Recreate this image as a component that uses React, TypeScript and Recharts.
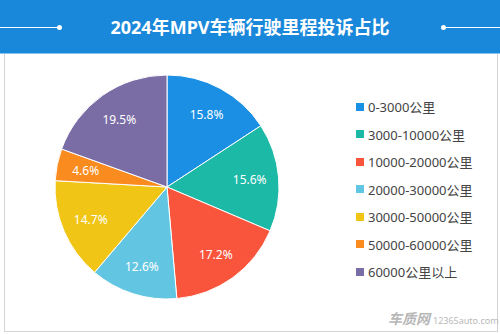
import { PieChart, Pie, Cell, Legend } from 'recharts';

const categories = [
  '0-3000公里',
  '3000-10000公里',
  '10000-20000公里',
  '20000-30000公里',
  '30000-50000公里',
  '50000-60000公里',
  '60000公里以上',
];
const shares = [15.8, 15.6, 17.2, 12.6, 14.7, 4.6, 19.5];
const colors = ['#1a8fe3', '#1cb9a6', '#f8553c', '#62c6e2', '#f0c516', '#fa8b1f', '#7a6da6'];

const title = '2024年MPV车辆行驶里程投诉占比';
const font = "'Noto Sans', 'Noto Sans CJK SC', sans-serif";

const data = categories.map((name, i) => ({ name, value: shares[i] }));

const RAD = Math.PI / 180;

function renderLabel(props: any) {
  const { cx, cy, midAngle, value } = props;
  const r = 83;
  const x = cx + r * Math.cos(-midAngle * RAD);
  const y = cy + r * Math.sin(-midAngle * RAD);
  return (
    <text
      x={x}
      y={y}
      fill="#fff"
      textAnchor="middle"
      dominantBaseline="central"
      fontSize={12}
      fontFamily={font}
    >
      {value.toFixed(1)}%
    </text>
  );
}

// legend in data order (the payload order from recharts got shuffled)
function LegendList() {
  return (
    <ul style={{ listStyle: 'none', margin: 0, padding: 0 }}>
      {categories.map((c, i) => (
        <li
          key={c}
          style={{ display: 'flex', alignItems: 'center', height: 27.5, fontFamily: font, fontSize: 13, color: '#444' }}
        >
          <span style={{ width: 8, height: 8, background: colors[i], marginRight: 4, display: 'inline-block' }} />
          {c}
        </li>
      ))}
    </ul>
  );
}

export default function App() {
  return (
    <div style={{ position: 'absolute', left: 0, top: 0, width: 500, height: 334, background: '#fff', overflow: 'hidden' }}>
      <div style={{ position: 'absolute', left: 0, top: 0, width: 500, height: 53, background: '#1a88da' }} />
      <div style={{ position: 'absolute', left: 0, top: 53, width: 500, height: 1, background: '#8cc4ee' }} />
      <div
        style={{
          position: 'absolute',
          left: 4,
          top: 54,
          width: 492,
          height: 277,
          borderLeft: '1px solid #d4d4d4',
          borderRight: '1px solid #d4d4d4',
          borderBottom: '1px solid #d4d4d4',
        }}
      />
      <div style={{ position: 'absolute', left: 0, top: 27, width: 60, height: 1, background: '#fff' }} />
      <div style={{ position: 'absolute', left: 57, top: 25, width: 5, height: 5, borderRadius: 3, background: '#fff' }} />
      <div style={{ position: 'absolute', left: 441, top: 25, width: 5, height: 5, borderRadius: 3, background: '#fff' }} />
      <div style={{ position: 'absolute', left: 443, top: 27, width: 57, height: 1, background: '#fff' }} />
      <div
        style={{
          position: 'absolute',
          left: 0,
          top: 14,
          width: 500,
          textAlign: 'center',
          color: '#fff',
          fontFamily: font,
          fontWeight: 700,
          fontSize: 18,
          lineHeight: '26px',
        }}
      >
        {title}
      </div>
      <div style={{ position: 'absolute', left: 0, top: 0 }}>
        <PieChart width={500} height={334}>
          <Pie
            data={data}
            dataKey="value"
            nameKey="name"
            cx={162}
            cy={182}
            outerRadius={112}
            startAngle={90}
            endAngle={-270}
            stroke="#fff"
            strokeWidth={1}
            label={renderLabel}
            labelLine={false}
            isAnimationActive={false}
          >
            {data.map((d, i) => (
              <Cell key={d.name} fill={colors[i]} />
            ))}
          </Pie>
          <Legend
            layout="vertical"
            content={<LegendList />}
            wrapperStyle={{ left: 356, top: 93, width: 140 }}
          />
        </PieChart>
      </div>
      <div
        style={{
          position: 'absolute',
          left: 388,
          top: 310,
          fontFamily: font,
          color: '#b8b8b8',
          whiteSpace: 'nowrap',
          lineHeight: '16px',
        }}
      >
        <span style={{ fontSize: 14, fontWeight: 700, fontStyle: 'italic' }}>车质网</span>
        <span style={{ fontSize: 9, marginLeft: 3 }}>12365auto.com</span>
      </div>
    </div>
  );
}
